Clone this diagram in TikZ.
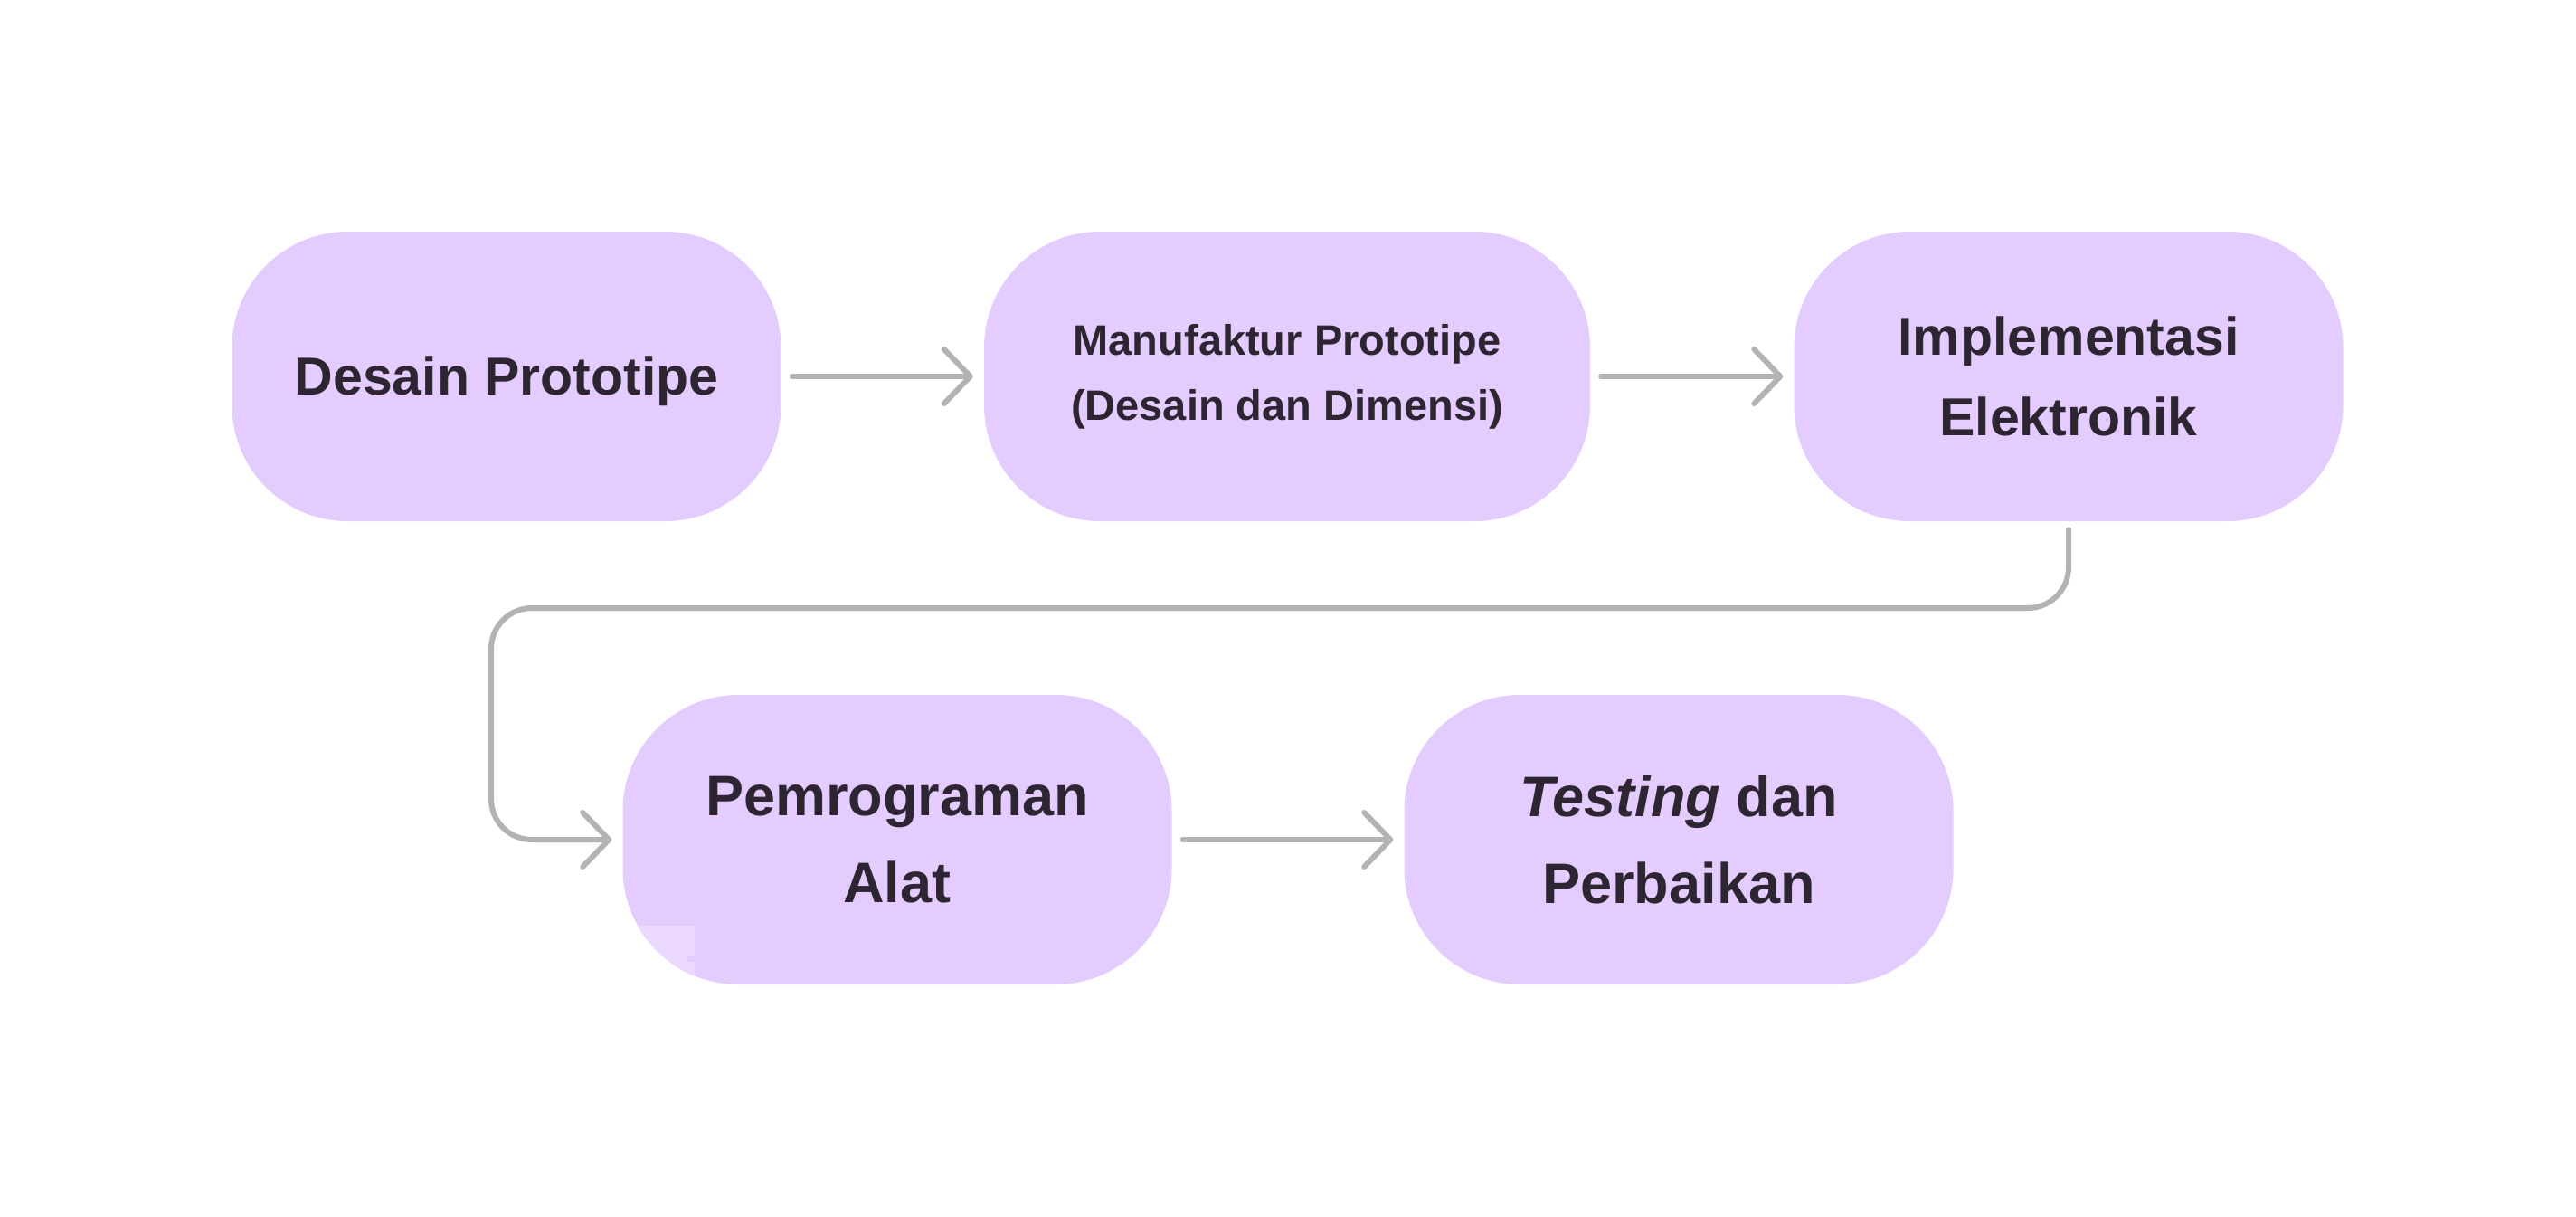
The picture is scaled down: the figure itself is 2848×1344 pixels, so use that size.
\documentclass[tikz,border=0pt]{standalone}
\usepackage{fontspec}
\setmainfont{Liberation Sans}
\usetikzlibrary{arrows.meta}
\definecolor{boxfill}{HTML}{E4CCFF}
\definecolor{boxlight}{HTML}{EBD9FF}
\definecolor{txt}{HTML}{2E2533}
\definecolor{conn}{HTML}{B3B3B3}
\tikzset{
  stepbox/.style={rectangle, rounded corners=128pt, fill=boxfill, text=txt,
    minimum width=607pt, minimum height=320pt, align=center, inner sep=0pt,
    font=\bfseries\fontsize{59}{89}\selectfont},
  conn/.style={draw=conn, line width=6pt, line cap=round, line join=round,
    -{Straight Barb[length=29pt,width=60pt,round]}},
}
\begin{document}
\begin{tikzpicture}[x=1pt,y=-1pt]
\useasboundingbox[fill=white] (0,0) rectangle (2848,1344);
\node[stepbox] (b1) at (560,416) {\vphantom{Desain Prototipe}\smash{\raisebox{-5pt}{Desain Prototipe}}};
\node[stepbox, minimum width=670pt, font=\bfseries\fontsize{47}{72}\selectfont] (b2) at (1423,416) {Manufaktur Prototipe\\(Desain dan Dimensi)};
\node[stepbox] (b3) at (2287,416) {Implementasi\\Elektronik};
\node[stepbox, font=\bfseries\fontsize{63}{96}\selectfont] (b4) at (992,928) {Pemrograman\\Alat};
\node[stepbox, font=\bfseries\fontsize{63}{96}\selectfont] (b5) at (1856,928) {\textit{Testing} dan\\Perbaikan};
\begin{scope}
  \clip[rounded corners=128pt] (b4.south west) rectangle (b4.north east);
  \fill[boxlight] (705,1023) rectangle (768,1100);
  \fill[boxfill] (760,1056) rectangle (768,1063);
\end{scope}
\coordinate (c1) at (2287,672);
\coordinate (c2) at (543,672);
\coordinate (c3) at (543,928);
\draw[conn, shorten <=12pt, shorten >=12pt] (b1.east) -- (b2.west);
\draw[conn, shorten <=12pt, shorten >=12pt] (b2.east) -- (b3.west);
\draw[conn, shorten >=12pt, rounded corners=45pt] ([yshift=-9pt]b3.south) -- (c1) -- (c2) -- (c3) -- (b4.west);
\draw[conn, shorten <=12pt, shorten >=12pt] (b4.east) -- (b5.west);
\end{tikzpicture}
\end{document}
